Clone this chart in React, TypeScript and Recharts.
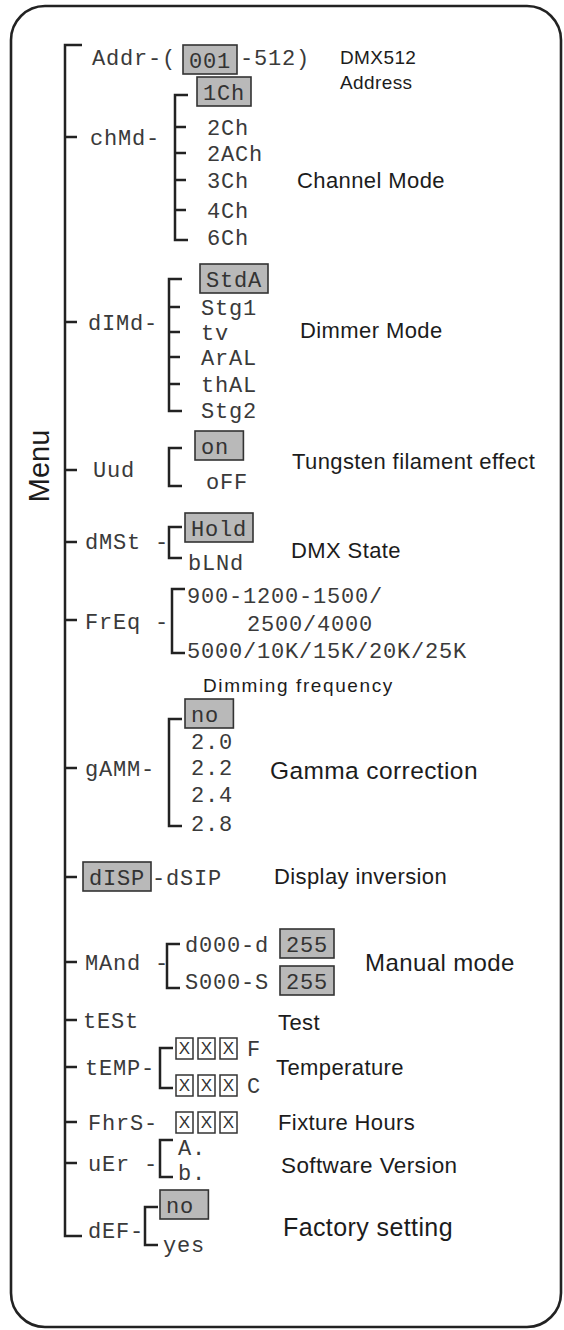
import React from 'react';
import { ScatterChart, Scatter, XAxis, YAxis, ReferenceArea } from 'recharts';

const WIDTH = 564;
const HEIGHT = 1330;

// top level menu codes as shown on the display, with column / row on the diagram grid
const menuCodes = ['Addr-(', 'chMd-', 'dIMd-', 'Uud', 'dMSt -', 'FrEq -', 'gAMM-', 'dISP', 'MAnd -', 'tESt', 'tEMP-', 'FhrS-', 'uEr -', 'dEF-'];
const menuCols = [92, 90, 88, 93, 85, 85, 85, 83, 85, 83, 85, 88, 88, 88];
const menuRows = [57, 137, 322, 469, 541, 621, 768, 877, 962, 1020, 1067, 1122, 1163, 1230];
const menuDefaults = ['dISP'];

// rows where the main spine has a branch
const spineRows = [45, 137, 322, 470, 542, 620, 768, 877, 962, 1020, 1067, 1122, 1163, 1236];

// sub menu brackets: column of the bracket and rows of its branches
const bracketCols = [175, 169, 169, 169, 172, 169, 167, 160, 160, 145];
const bracketRows = [
  [95, 127, 153, 180, 210, 240],
  [279, 307, 332, 357, 384, 411],
  [448, 486],
  [527, 558],
  [589, 653],
  [719, 826],
  [944, 988],
  [1048, 1088],
  [1140, 1177],
  [1207, 1245],
];

// sub options (def = factory default, shown highlighted)
const addrOptions = [
  { code: '001', x: 183, y: 60, def: true },
  { code: '-512)', x: 240, y: 57 },
];
const channelOptions = [
  { code: '1Ch', x: 197, y: 92, def: true },
  { code: '2Ch', x: 207, y: 127 },
  { code: '2ACh', x: 207, y: 153 },
  { code: '3Ch', x: 207, y: 180 },
  { code: '4Ch', x: 207, y: 210 },
  { code: '6Ch', x: 207, y: 237 },
];
const dimmerOptions = [
  { code: 'StdA', x: 200, y: 279, def: true },
  { code: 'Stg1', x: 201, y: 307 },
  { code: 'tv', x: 201, y: 332 },
  { code: 'ArAL', x: 201, y: 357 },
  { code: 'thAL', x: 201, y: 384 },
  { code: 'Stg2', x: 201, y: 410 },
];
const tungstenOptions = [
  { code: 'on', x: 195, y: 446, def: true },
  { code: 'oFF', x: 206, y: 481 },
];
const stateOptions = [
  { code: 'Hold', x: 185, y: 528, def: true },
  { code: 'bLNd', x: 188, y: 562 },
];
const freqOptions = [
  { code: '900-1200-1500/', x: 187, y: 595 },
  { code: '2500/4000', x: 247, y: 623 },
  { code: '5000/10K/15K/20K/25K', x: 187, y: 650 },
];
const gammaOptions = [
  { code: 'no', x: 185, y: 714, def: true },
  { code: '2.0', x: 191, y: 741 },
  { code: '2.2', x: 191, y: 767 },
  { code: '2.4', x: 191, y: 794 },
  { code: '2.8', x: 191, y: 823 },
];
const displayOptions = [{ code: '-dSIP', x: 152, y: 877 }];
const manualOptions = [
  { code: 'd000-d', x: 185, y: 944 },
  { code: '255', x: 280, y: 944, def: true },
  { code: 'S000-S', x: 185, y: 981 },
  { code: '255', x: 280, y: 981, def: true },
];
const tempOptions = [
  { code: '☒☒☒F', x: 176, y: 1048 },
  { code: '☒☒☒C', x: 176, y: 1085 },
];
const hoursOptions = [{ code: '☒☒☒', x: 176, y: 1122 }];
const versionOptions = [
  { code: 'A.', x: 178, y: 1147 },
  { code: 'b.', x: 178, y: 1172 },
];
const factoryOptions = [
  { code: 'no', x: 160, y: 1205, def: true },
  { code: 'yes', x: 163, y: 1244 },
];

// descriptions on the right
const descTexts = ['DMX512', 'Address', 'Channel Mode', 'Dimmer Mode', 'Tungsten filament effect', 'DMX State', 'Dimming frequency', 'Gamma correction', 'Display inversion', 'Manual mode', 'Test', 'Temperature', 'Fixture Hours', 'Software Version', 'Factory setting'];
const descCols = [340, 340, 297, 300, 292, 291, 203, 270, 274, 365, 278, 276, 278, 281, 283];
const descRows = [57, 82, 180, 330, 461, 550, 685, 770, 876, 962, 1022, 1067, 1122, 1165, 1227];

const SEG_FONT = '"Liberation Mono", "DejaVu Sans Mono", monospace';
const SANS = '"Liberation Sans", Arial, sans-serif';
const SEG_SIZE = 22;
const SEG_ADV = 14;
const INK = '#222';

const descSize: Record<string, number> = {
  DMX512: 19,
  Address: 19,
  'Dimming frequency': 19,
  'Gamma correction': 24.5,
  'Manual mode': 24,
  'Factory setting': 25,
  'Software Version': 22.5,
};

const segStyle = { fontFamily: SEG_FONT, fontSize: SEG_SIZE, letterSpacing: 0.8 };

// ☒ = an unknown digit cell of the display, drawn as a framed X
function BallotCode({ cx, cy, text }: { cx: number; cy: number; text: string }) {
  let x = cx;
  const parts: React.ReactNode[] = [];
  Array.from(text).forEach((ch, i) => {
    if (ch === '☒') {
      parts.push(
        <g key={i}>
          <rect x={x} y={cy - 10} width={17} height={21} fill="none" stroke="#333" strokeWidth={1.5} />
          <text x={x + 8.5} y={cy} dy={6} textAnchor="middle" fill="#333"
            style={{ fontFamily: SANS, fontSize: 17 }}>X</text>
        </g>,
      );
      x += 22;
    } else {
      parts.push(<text key={i} x={x + 5} y={cy} dy={7.5} fill="#3a3a3a" style={segStyle}>{ch}</text>);
      x += 14;
    }
  });
  return <g>{parts}</g>;
}

function CodeMark(props: any) {
  const { cx, cy, payload } = props;
  const text: string = payload.code;
  if (text.includes('☒')) return <BallotCode cx={cx} cy={cy} text={text} />;
  if (payload.def) {
    const w = Math.max(text.length, 2.6) * SEG_ADV + 12;
    return (
      <g>
        <rect x={cx} y={cy - 15} width={w} height={29} fill="#b9b9b9" stroke="#333" strokeWidth={1.6} />
        <text x={cx + 6} y={cy} dy={7.5} fill="#333" style={segStyle}>{text}</text>
      </g>
    );
  }
  return <text x={cx} y={cy} dy={7.5} fill="#3a3a3a" style={segStyle}>{text}</text>;
}

function DescMark(props: any) {
  const { cx, cy, payload } = props;
  const size = descSize[payload.text] ?? 22;
  return (
    <text x={cx} y={cy} dy={size * 0.36} fill="#1c1c1c"
      style={{ fontFamily: SANS, fontSize: size, letterSpacing: payload.text === 'Dimming frequency' ? 1.6 : 0.4 }}>
      {payload.text}
    </text>
  );
}

function TitleMark(props: any) {
  const { cx, cy } = props;
  return (
    <text x={cx} y={cy} textAnchor="middle" dominantBaseline="central" transform={`rotate(-90 ${cx} ${cy})`}
      fill="#1c1c1c" style={{ fontFamily: SANS, fontSize: 29 }}>
      Menu
    </text>
  );
}

const NoDot = () => <g />;

function bracketPath(col: number, rows: number[], tick: number, corner: number) {
  const pts: { x: number; y: number }[] = [];
  const last = rows.length - 1;
  rows.forEach((r, i) => {
    const len = i === 0 || i === last ? corner : tick;
    if (i === 0) {
      pts.push({ x: col + len, y: r }, { x: col, y: r });
    } else {
      pts.push({ x: col, y: r }, { x: col + len, y: r });
      if (i !== last) pts.push({ x: col, y: r });
    }
  });
  return pts;
}

export default function App() {
  const menuData = menuCodes.map((code, i) => ({
    code,
    x: menuCols[i],
    y: menuRows[i],
    def: menuDefaults.includes(code),
  }));
  const optionData = [
    ...addrOptions, ...channelOptions, ...dimmerOptions, ...tungstenOptions, ...stateOptions,
    ...freqOptions, ...gammaOptions, ...displayOptions, ...manualOptions, ...tempOptions,
    ...hoursOptions, ...versionOptions, ...factoryOptions,
  ];
  const descData = descTexts.map((text, i) => ({ text, x: descCols[i], y: descRows[i] }));
  const spine = bracketPath(65, spineRows, 12, 17);

  return (
    <div style={{ position: 'absolute', left: 0, top: 0, width: WIDTH, height: HEIGHT, background: '#fff' }}>
      <ScatterChart width={WIDTH} height={HEIGHT} margin={{ top: 0, right: 0, bottom: 0, left: 0 }}>
        <XAxis type="number" dataKey="x" domain={[0, WIDTH]} allowDataOverflow hide />
        <YAxis type="number" dataKey="y" domain={[0, HEIGHT]} reversed allowDataOverflow hide />
        <ReferenceArea
          x1={11}
          x2={561}
          y1={6}
          y2={1327}
          shape={(p: any) => (
            <rect x={p.x} y={p.y} width={p.width} height={p.height} rx={34} fill="none" stroke={INK} strokeWidth={2.6} />
          )}
        />
        <Scatter data={spine} line={{ stroke: INK, strokeWidth: 2.5 }} shape={NoDot} isAnimationActive={false} />
        {bracketRows.map((rows, i) => (
          <Scatter
            key={i}
            data={bracketPath(bracketCols[i], rows, 11, 13)}
            line={{ stroke: INK, strokeWidth: 2.5 }}
            shape={NoDot}
            isAnimationActive={false}
          />
        ))}
        <Scatter data={menuData} shape={CodeMark} isAnimationActive={false} />
        <Scatter data={optionData} shape={CodeMark} isAnimationActive={false} />
        <Scatter data={descData} shape={DescMark} isAnimationActive={false} />
        <Scatter data={[{ x: 39, y: 466 }]} shape={TitleMark} isAnimationActive={false} />
      </ScatterChart>
    </div>
  );
}
